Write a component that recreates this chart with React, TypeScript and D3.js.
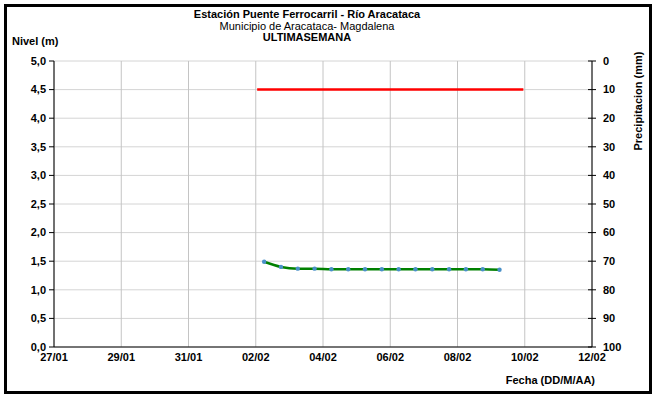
import React from "react";
import * as d3 from "d3";

const levelDates = [
  "2024-02-02T06:00", "2024-02-02T18:00", "2024-02-03T06:00", "2024-02-03T18:00",
  "2024-02-04T06:00", "2024-02-04T18:00", "2024-02-05T06:00", "2024-02-05T18:00",
  "2024-02-06T06:00", "2024-02-06T18:00", "2024-02-07T06:00", "2024-02-07T18:00",
  "2024-02-08T06:00", "2024-02-08T18:00", "2024-02-09T06:00",
];
const levelValues = [1.49, 1.4, 1.37, 1.37, 1.36, 1.36, 1.36, 1.36, 1.36, 1.36, 1.36, 1.36, 1.36, 1.36, 1.35];
const thresholdDates = ["2024-02-02T01:00", "2024-02-09T23:00"];
const thresholdValue = 4.5;
const xTickDates = ["2024-01-27", "2024-01-29", "2024-01-31", "2024-02-02", "2024-02-04", "2024-02-06", "2024-02-08", "2024-02-10", "2024-02-12"];
const yTicks = [0, 0.5, 1, 1.5, 2, 2.5, 3, 3.5, 4, 4.5, 5];
const precipTicks = [0, 10, 20, 30, 40, 50, 60, 70, 80, 90, 100];

const W = 653, H = 396;
const m = { left: 54, right: 592, top: 61, bottom: 347 };
const FONT = "'Liberation Sans', Arial, sans-serif";

export default function App() {
  const parse = (s: string) => new Date(s);
  const x = d3.scaleTime().domain([parse("2024-01-27T00:00"), parse("2024-02-12T00:00")]).range([m.left, m.right]);
  const y = d3.scaleLinear().domain([0, 5]).range([m.bottom, m.top]);
  const yp = d3.scaleLinear().domain([0, 100]).range([m.top, m.bottom]);
  const fmt = d3.timeFormat("%d/%m");
  const fmtY = (v: number) => v.toFixed(1).replace(".", ",");

  const levelPts = levelDates.map((d, i) => [x(parse(d)), y(levelValues[i])] as [number, number]);
  const line = d3.line().curve(d3.curveMonotoneX);
  const levelPath = line(levelPts) || "";

  return (
    <svg width={W} height={H} style={{ position: "absolute", left: 0, top: 0 }} fontFamily={FONT}>
      <rect x={0} y={0} width={W} height={H} fill="#fff" />
      <rect x={5.5} y={5.5} width={W - 8} height={H - 9} fill="none" stroke="#000" strokeWidth={3} />
      {/* gridlines */}
      {yTicks.map((t) => (
        <line key={"gy" + t} x1={m.left} x2={m.right} y1={y(t)} y2={y(t)} stroke="#d4d4d4" strokeWidth={1} />
      ))}
      {xTickDates.map((d) => (
        <line key={"gx" + d} x1={x(parse(d + "T00:00"))} x2={x(parse(d + "T00:00"))} y1={m.top} y2={m.bottom} stroke="#c4c4c4" strokeWidth={1} />
      ))}
      {/* axes */}
      <line x1={m.left} x2={m.left} y1={m.top} y2={m.bottom} stroke="#000" />
      <line x1={m.right} x2={m.right} y1={m.top} y2={m.bottom} stroke="#000" />
      <line x1={m.left} x2={m.right} y1={m.bottom} y2={m.bottom} stroke="#000" />
      {yTicks.map((t) => (
        <g key={"ly" + t}>
          <line x1={m.left - 5} x2={m.left} y1={y(t)} y2={y(t)} stroke="#000" />
          <text x={m.left - 8} y={y(t)} dy="0.35em" textAnchor="end" fontSize={11} fontWeight="bold">{fmtY(t)}</text>
        </g>
      ))}
      {precipTicks.map((t) => (
        <g key={"ry" + t}>
          <line x1={m.right - 4} x2={m.right + 4} y1={yp(t)} y2={yp(t)} stroke="#000" />
          <text x={m.right + 11} y={yp(t)} dy="0.35em" textAnchor="start" fontSize={11} fontWeight="bold">{t}</text>
        </g>
      ))}
      {xTickDates.map((d) => (
        <text key={"lx" + d} x={x(parse(d + "T00:00"))} y={m.bottom + 14} textAnchor="middle" fontSize={11} fontWeight="bold">{fmt(parse(d + "T00:00"))}</text>
      ))}
      {/* threshold */}
      <line x1={x(parse(thresholdDates[0]))} x2={x(parse(thresholdDates[1]))} y1={y(thresholdValue)} y2={y(thresholdValue)} stroke="#ff0000" strokeWidth={2.5} />
      {/* level */}
      <path d={levelPath} fill="none" stroke="#008000" strokeWidth={2.5} />
      {levelPts.map((p, i) => (
        <circle key={"p" + i} cx={p[0]} cy={p[1]} r={2.2} fill="#4a90c8" />
      ))}
      {/* titles */}
      <text x={307} y={18} textAnchor="middle" fontSize={11} fontWeight="bold">Estación Puente Ferrocarril - Río Aracataca</text>
      <text x={307} y={30} textAnchor="middle" fontSize={11}>Municipio de Aracataca- Magdalena</text>
      <text x={307} y={41} textAnchor="middle" fontSize={11} fontWeight="bold">ULTIMASEMANA</text>
      <text x={12} y={45} textAnchor="start" fontSize={11} fontWeight="bold">Nivel (m)</text>
      <text x={595} y={384} textAnchor="end" fontSize={11} fontWeight="bold">Fecha (DD/M/AA)</text>
      <text transform={`translate(642,101) rotate(-90)`} textAnchor="middle" fontSize={11} fontWeight="bold">Precipitacion (mm)</text>
    </svg>
  );
}
